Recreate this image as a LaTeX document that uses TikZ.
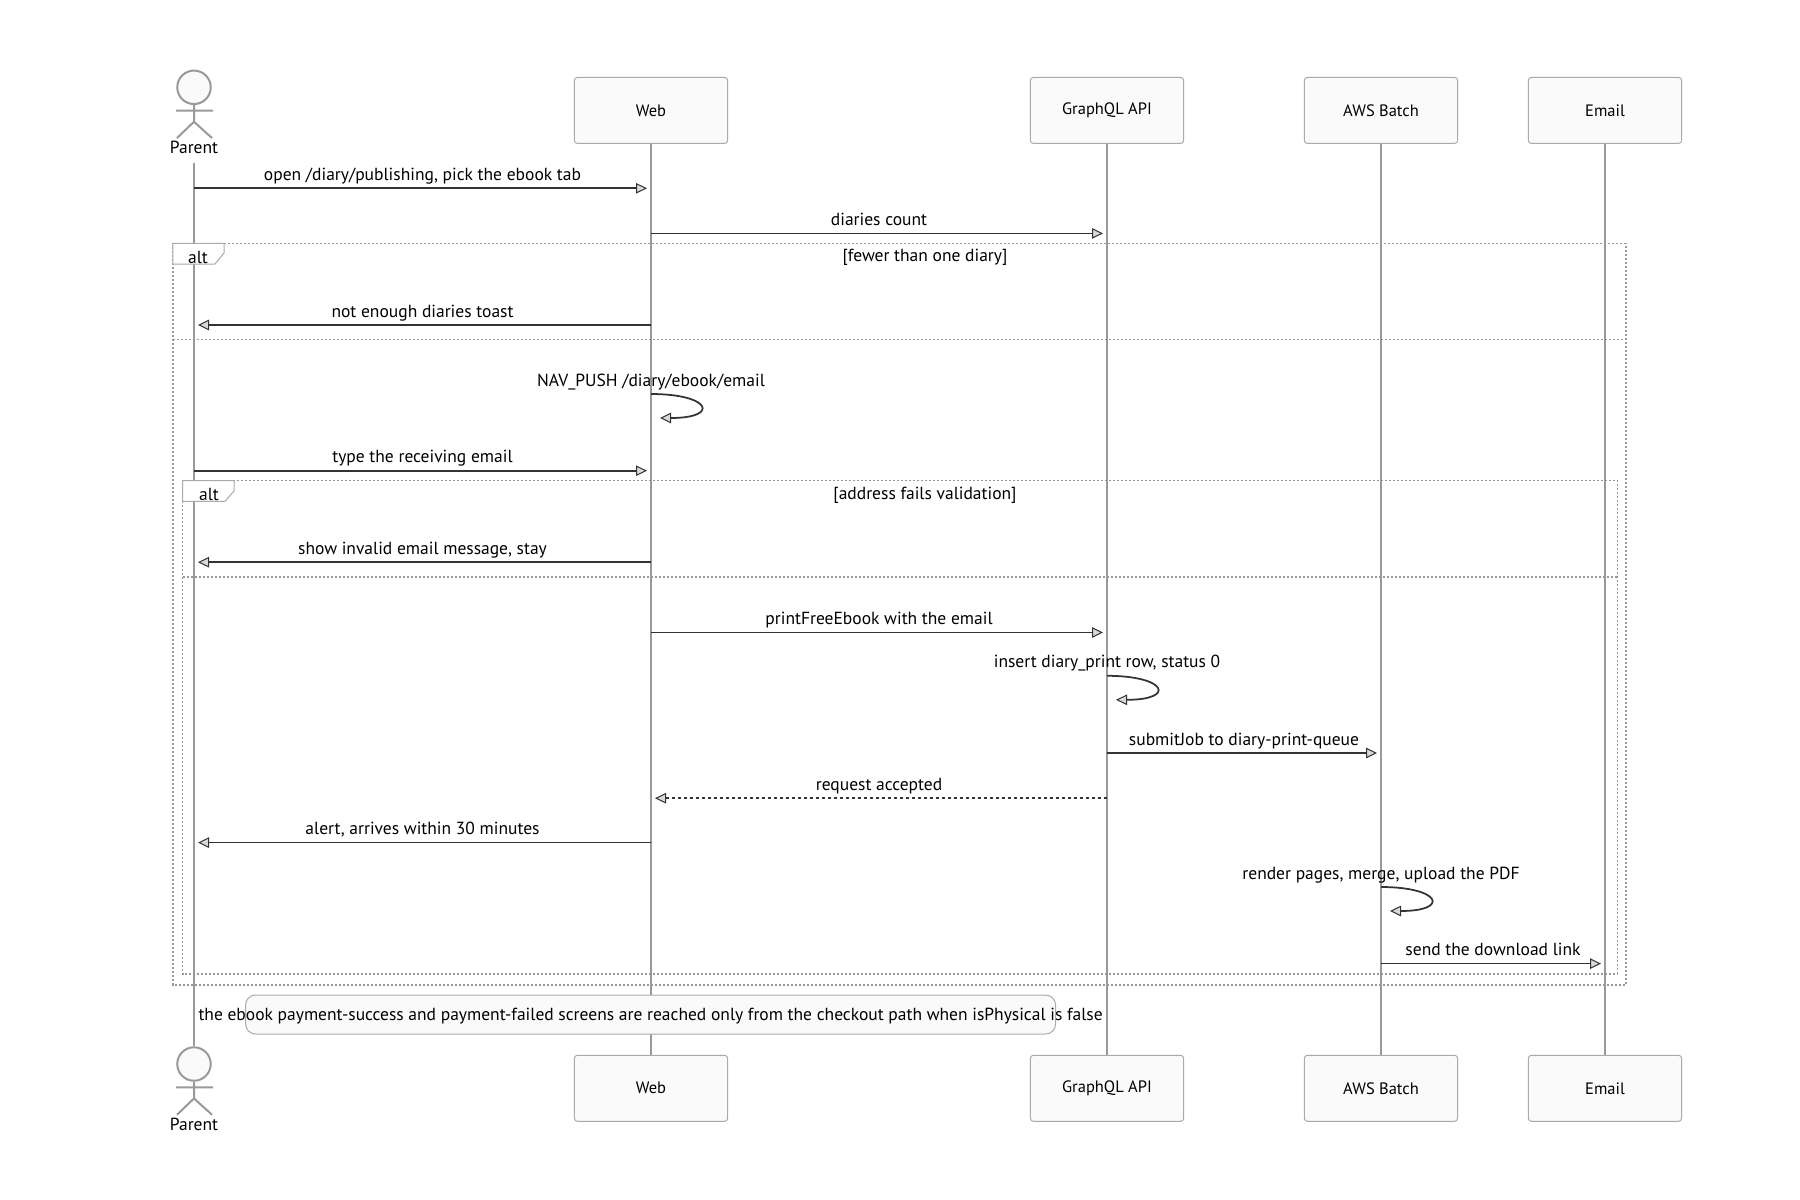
\documentclass[tikz,border=0pt]{standalone}
\usepackage{fontspec}
\setmainfont{PT Sans}
\usetikzlibrary{arrows.meta,positioning,shapes,calc}

\definecolor{lifegray}{HTML}{999999}
\definecolor{boxline}{HTML}{AAAAAA}
\definecolor{boxfill}{HTML}{FAFAFA}
\definecolor{msgline}{HTML}{333333}

\tikzset{
  actorbox/.style={draw=boxline,fill=boxfill,rounded corners=1.2pt,minimum width=61.3pt,minimum height=26.4pt,line width=0.4pt,font=\fontsize{6.6}{7.9}\selectfont},
  stickman/.style={draw=lifegray,line width=0.8pt},
  life/.style={draw=lifegray,line width=0.8pt},
  msg/.style={font=\fontsize{7}{8.4}\selectfont,anchor=south,inner xsep=0pt,inner ysep=0.5pt,text height=0.75em,text depth=0.25em},
  msgarrow/.style={draw=msgline,line width=0.7pt,shorten >=1.6pt,-{Triangle[length=4.4pt,width=4.2pt,color=msgline,fill=black!15,line width=0.4pt]}},
  reply/.style={msgarrow,dash pattern=on 1.2pt off 1.2pt},
  frame/.style={draw=lifegray,line width=0.6pt,dash pattern=on 0.8pt off 0.8pt},
  tab/.style={draw=boxline,fill=white,line width=0.4pt},
  cond/.style={font=\fontsize{7}{8.4}\selectfont,inner sep=0pt}
}

\begin{document}
\begin{tikzpicture}[x=0.4pt,y=-0.4pt]
  \useasboundingbox (0,0) rectangle (1800,1200);
  % Define the participants, top and bottom
  \path (194,87.3) node[draw=lifegray,line width=0.8pt,fill=boxfill,shape=circle,minimum size=13.4pt,inner sep=0pt] (A0) {};
  \path (194,147.5) node[msg,anchor=center,inner ysep=1pt] (L0) {Parent};
  \path (651,110.4) node[actorbox] (A1) {Web};
  \path (1107,110.4) node[actorbox] (A2) {GraphQL API};
  \path (1381,110.4) node[actorbox] (A3) {AWS Batch};
  \path (1605,110.4) node[actorbox] (A4) {Email};
  \path (194,1064) node[draw=lifegray,line width=0.8pt,fill=boxfill,shape=circle,minimum size=13.4pt,inner sep=0pt] (B0) {};
  \path (194,1124.5) node[msg,anchor=center,inner ysep=1pt] (K0) {Parent};
  \path (651,1088.3) node[actorbox] (B1) {Web};
  \path (1107,1088.3) node[actorbox] (B2) {GraphQL API};
  \path (1381,1088.3) node[actorbox] (B3) {AWS Batch};
  \path (1605,1088.3) node[actorbox] (B4) {Email};
  % Draw the stick figures
  \draw[stickman] (A0.south) -- ++(0,16.7) -- ++(-17,16.3) ++(17,-16.3) -- ++(18,16.3) (176,110.7) -- (213,110.7);
  \draw[stickman] (B0.south) -- ++(0,16.7) -- ++(-17,16.3) ++(17,-16.3) -- ++(18,16.3) (176,1087.4) -- (213,1087.4);
  % Draw the lifelines
  \draw[life] (L0.south) -- (B0.north) (A1) -- (B1) (A2) -- (B2) (A3) -- (B3) (A4) -- (B4);
  % Draw the alt frames
  \draw[frame] (172.8,243.4) rectangle (1626,985) (172.8,339.5) -- (1626,339.5);
  \draw[tab] (172.8,243.4) -- (224,243.4) -- (224,253) -- (215,264) -- (172.8,264) -- cycle;
  \path (198,257) node[cond] (T1) {alt};
  \path (925,257.5) node[cond] (C1) {[fewer than one diary]};
  \draw[frame] (182.5,480.7) rectangle (1617.5,974) (182.5,577) -- (1617.5,577);
  \draw[tab] (182.5,480.7) -- (234,480.7) -- (234,491) -- (225,501.3) -- (182.5,501.3) -- cycle;
  \path (209,494.3) node[cond] (T2) {alt};
  \path (925,495) node[cond] (C2) {[address fails validation]};
  % Draw the messages
  \path (422.5,188.3) node[msg] (m1) {open /diary/publishing, pick the ebook tab};
  \draw[msgarrow] (A0 |- m1.south) -- (A1 |- m1.south);
  \path (879,233.4) node[msg] (m2) {diaries count};
  \draw[msgarrow] (A1 |- m2.south) -- (A2 |- m2.south);
  \path (422.5,325) node[msg] (m3) {not enough diaries toast};
  \draw[msgarrow] (A1 |- m3.south) -- (A0 |- m3.south);
  \path (651,394) node[msg] (m4) {NAV\_PUSH /diary/ebook/email};
  \draw[msgarrow,shorten >=0pt] (A1 |- m4.south) to[out=0,in=0,looseness=6] ++(9,24);
  \path (422.5,470.7) node[msg] (m5) {type the receiving email};
  \draw[msgarrow] (A0 |- m5.south) -- (A1 |- m5.south);
  \path (422.5,562.2) node[msg] (m6) {show invalid email message, stay};
  \draw[msgarrow] (A1 |- m6.south) -- (A0 |- m6.south);
  \path (879,632.5) node[msg] (m7) {printFreeEbook with the email};
  \draw[msgarrow] (A1 |- m7.south) -- (A2 |- m7.south);
  \path (1107,675.8) node[msg] (m8) {insert diary\_print row, status 0};
  \draw[msgarrow,shorten >=0pt] (A2 |- m8.south) to[out=0,in=0,looseness=6] ++(9,24);
  \path (1244,753) node[msg] (m9) {submitJob to diary-print-queue};
  \draw[msgarrow] (A2 |- m9.south) -- (A3 |- m9.south);
  \path (879,798.2) node[msg] (m10) {request accepted};
  \draw[reply] (A2 |- m10.south) -- (A1 |- m10.south);
  \path (422.5,842.6) node[msg] (m11) {alert, arrives within 30 minutes};
  \draw[msgarrow] (A1 |- m11.south) -- (A0 |- m11.south);
  \path (1381,887) node[msg] (m12) {render pages, merge, upload the PDF};
  \draw[msgarrow,shorten >=0pt] (A3 |- m12.south) to[out=0,in=0,looseness=6] ++(9,24);
  \path (1493,963.6) node[msg] (m13) {send the download link};
  \draw[msgarrow] (A3 |- m13.south) -- (A4 |- m13.south);
  % Draw the note over Web
  \path (650.6,1014.5) node[draw=boxline,fill=boxfill,line width=0.4pt,rounded corners=4pt,minimum width=324pt,minimum height=15.6pt] (N1) {};
  \path (N1.center) node[msg,anchor=center] (n1) {the ebook payment-success and payment-failed screens are reached only from the checkout path when isPhysical is false};
\end{tikzpicture}
\end{document}
